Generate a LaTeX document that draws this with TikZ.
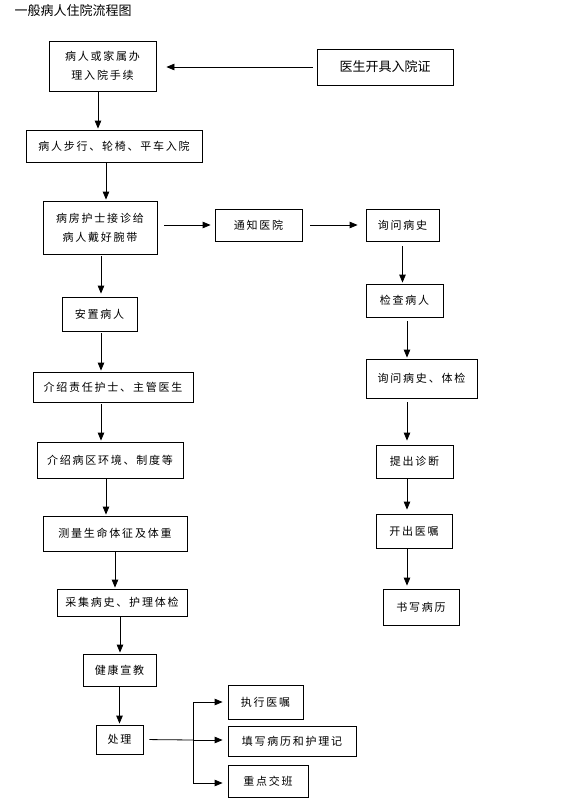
\documentclass[tikz,border=0pt]{standalone}
\usepackage{fontspec}
\newfontfamily\cjk[LetterSpace=16]{Noto Sans CJK SC}
\newfontfamily\cjkplain{Noto Sans CJK SC}
\usetikzlibrary{arrows.meta}

\tikzset{
  stage/.style={draw, line width=0.8pt, inner sep=0pt, align=center,
    font=\cjk\fontsize{11}{18.7}\selectfont},
  arr/.style={draw, line width=0.8pt, -{Triangle[length=8pt,width=6.5pt]}, shorten >=1pt},
  link/.style={draw, line width=0.8pt}
}

\begin{document}
\begin{tikzpicture}[x=1pt, y=-1pt]
  \useasboundingbox (0,0) rectangle (562,806);
  \node[anchor=west, font=\cjkplain\fontsize{13}{15}\selectfont] (title) at (11,11) {一般病人住院流程图};
  % left column
  \node[stage, minimum width=107pt, minimum height=50pt] (adm) at (102.5,66) {病人或家属办\\理入院手续};
  \node[stage, minimum width=136pt, minimum height=36pt, font=\cjkplain\fontsize{13}{15}\selectfont] (cert) at (385,67) {医生开具入院证};
  \node[stage, minimum width=176pt, minimum height=32pt] (walk) at (114,146) {病人步行、轮椅、平车入院};
  \node[stage, minimum width=114pt, minimum height=53pt] (ward) at (100,227.5) {病房护士接诊给\\病人戴好腕带};
  \node[stage, minimum width=75pt, minimum height=34pt] (settle) at (99.5,314) {安置病人};
  \node[stage, minimum width=160pt, minimum height=30pt] (staff) at (113,387) {介绍责任护士、主管医生};
  \node[stage, minimum width=146pt, minimum height=36pt] (env) at (110,460) {介绍病区环境、制度等};
  \node[stage, minimum width=144pt, minimum height=35pt] (vital) at (115,533.5) {测量生命体征及体重};
  \node[stage, minimum width=130pt, minimum height=27pt] (hist) at (122,602.5) {采集病史、护理体检};
  \node[stage, minimum width=73pt, minimum height=32pt] (edu) at (119.5,670) {健康宣教};
  \node[stage, minimum width=47pt, minimum height=29pt] (treat) at (119.5,739.5) {处理};
  % middle and right column
  \node[stage, minimum width=87pt, minimum height=32pt] (notify) at (258.5,225) {通知医院};
  \node[stage, minimum width=73pt, minimum height=32pt] (ask) at (402.5,225) {询问病史};
  \node[stage, minimum width=77pt, minimum height=33pt] (exam) at (404.5,300.5) {检查病人};
  \node[stage, minimum width=111pt, minimum height=39pt] (askexam) at (421.5,378.5) {询问病史、体检};
  \node[stage, minimum width=77pt, minimum height=33pt] (diag) at (414.5,461.5) {提出诊断};
  \node[stage, minimum width=76pt, minimum height=34pt] (order) at (414,531) {开出医嘱};
  \node[stage, minimum width=76pt, minimum height=36pt] (record) at (421,607) {书写病历};
  % branches of treat
  \node[stage, minimum width=75pt, minimum height=34pt] (exec) at (265.5,702) {执行医嘱};
  \node[stage, minimum width=128pt, minimum height=30pt] (fill) at (292,741) {填写病历和护理记};
  \node[stage, minimum width=80pt, minimum height=32pt] (shift) at (268,781) {重点交班};
  \coordinate (fork) at (193,740);

  % connectors
  \draw[arr, shorten <=4pt, shorten >=10pt] (cert.west) -- (cert.west -| adm.east);
  \draw[arr] ([xshift=-4.5pt]adm.south) -- ([xshift=-4.5pt]adm.south |- walk.north);
  \draw[arr] ([xshift=-8pt]walk.south) -- ([xshift=-8pt]walk.south |- ward.north);
  \draw[arr, shorten <=2pt, shorten >=3pt] ([xshift=1pt]ward.south) -- ([xshift=1pt]ward.south |- settle.north);
  \draw[arr, shorten <=2pt] ([xshift=1.5pt]settle.south) -- ([xshift=1.5pt]settle.south |- staff.north);
  \draw[arr, shorten <=2pt] ([xshift=-12pt]staff.south) -- ([xshift=-12pt]staff.south |- env.north);
  \draw[arr] ([xshift=-4pt]env.south) -- ([xshift=-4pt]env.south |- vital.north);
  \draw[arr] (vital.south) -- (vital.south |- hist.north);
  \draw[arr] ([xshift=-2pt]hist.south) -- ([xshift=-2pt]hist.south |- edu.north);
  \draw[arr] (edu.south) -- (edu.south |- treat.north);
  \draw[arr, shorten <=7pt, shorten >=4pt] (notify.west -| ward.east) -- (notify.west);
  \draw[arr, shorten <=8pt, shorten >=8pt] (notify) -- (ask);
  \draw[arr, shorten <=5pt] (ask.south) -- (ask.south |- exam.north);
  \draw[arr, shorten <=4pt] ([xshift=2.5pt]exam.south) -- ([xshift=2.5pt]exam.south |- askexam.north);
  \draw[arr, shorten <=4pt, shorten >=4pt] ([xshift=-14.5pt]askexam.south) -- ([xshift=-14.5pt]askexam.south |- diag.north);
  \draw[arr, shorten >=4pt] ([xshift=-7.5pt]diag.south) -- ([xshift=-7.5pt]diag.south |- order.north);
  \draw[arr, shorten >=3pt] ([xshift=-7pt]order.south) -- ([xshift=-7pt]order.south |- record.north);
  \draw[link, shorten <=6pt] (treat.east) -- (fork);
  \draw[arr, shorten >=5pt] (fork) |- (exec.west);
  \draw[arr, shorten >=5pt] (fork) -- (fork -| fill.west);
  \draw[arr, shorten >=5pt] (fork) |- ([yshift=-2pt]shift.west);
\end{tikzpicture}
\end{document}
